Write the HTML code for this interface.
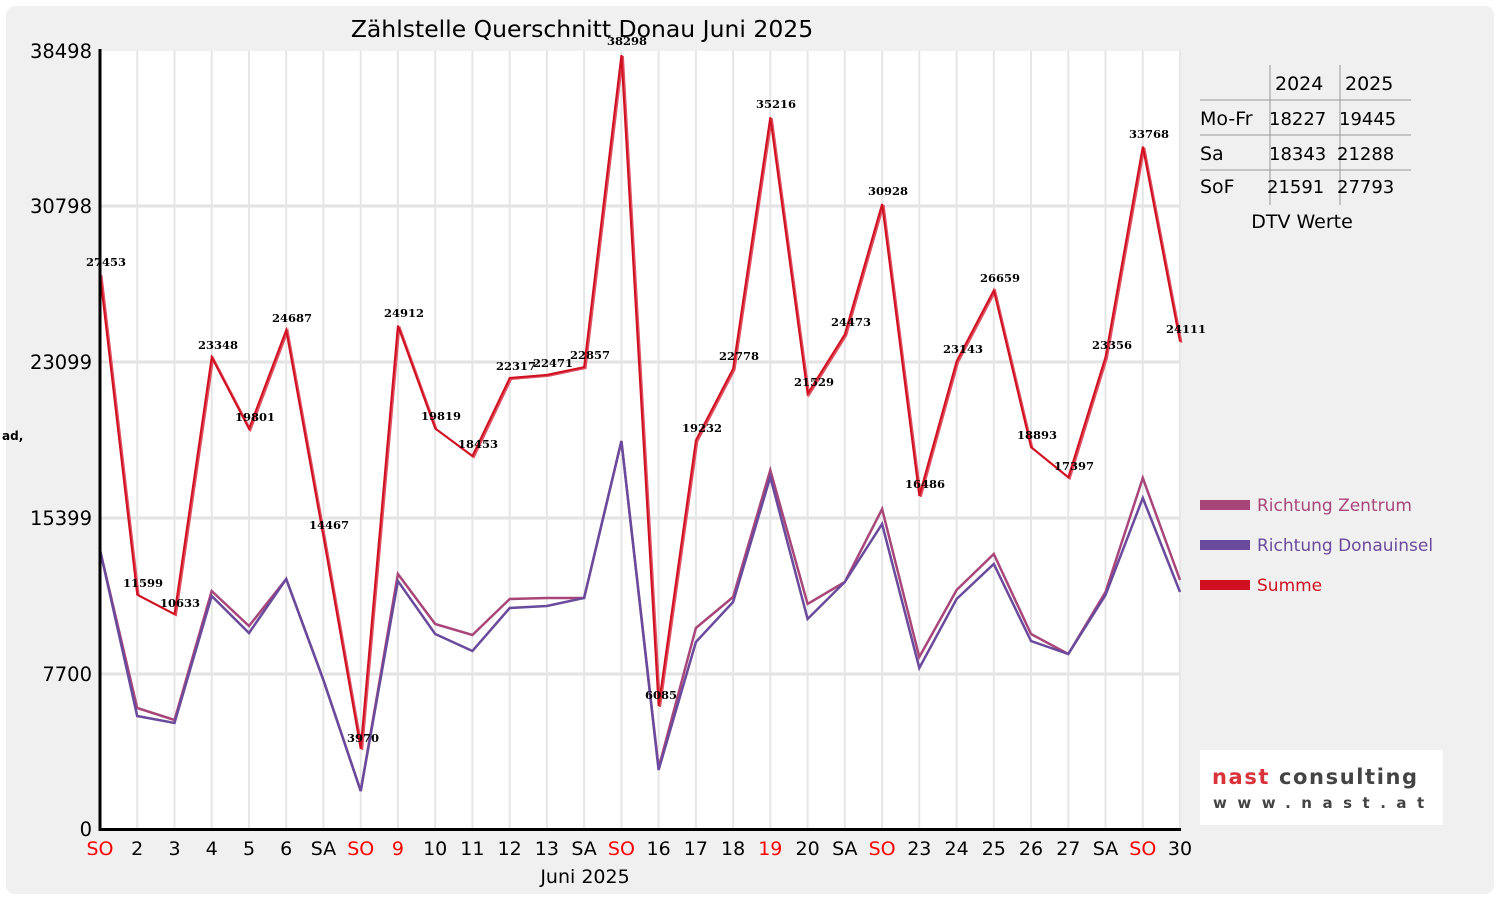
<!DOCTYPE html>
<html><head><meta charset="utf-8"><style>
body{margin:0;background:#fff;width:1500px;height:900px;overflow:hidden}
text{font-family:"DejaVu Sans","Liberation Sans",sans-serif}
text.v{font-family:"DejaVu Serif","Liberation Serif",serif;font-weight:bold;font-size:11.5px}
</style></head><body>
<svg width="1500" height="900" xmlns="http://www.w3.org/2000/svg">
<rect x="6" y="6" width="1488" height="888" rx="9" fill="#f0f0f0"/>
<rect x="100" y="51" width="1080" height="778" fill="#fff"/>
<g stroke="#e3e3e3" stroke-width="3">
<line x1="100" y1="206" x2="1180" y2="206"/><line x1="100" y1="362" x2="1180" y2="362"/><line x1="100" y1="518" x2="1180" y2="518"/><line x1="100" y1="674" x2="1180" y2="674"/>
</g>
<g stroke="#e6e6e6" stroke-width="2">
<line x1="137.2" y1="51" x2="137.2" y2="829"/><line x1="174.5" y1="51" x2="174.5" y2="829"/><line x1="211.7" y1="51" x2="211.7" y2="829"/><line x1="249" y1="51" x2="249" y2="829"/><line x1="286.2" y1="51" x2="286.2" y2="829"/><line x1="323.4" y1="51" x2="323.4" y2="829"/><line x1="360.7" y1="51" x2="360.7" y2="829"/><line x1="397.9" y1="51" x2="397.9" y2="829"/><line x1="435.2" y1="51" x2="435.2" y2="829"/><line x1="472.4" y1="51" x2="472.4" y2="829"/><line x1="509.7" y1="51" x2="509.7" y2="829"/><line x1="546.9" y1="51" x2="546.9" y2="829"/><line x1="584.1" y1="51" x2="584.1" y2="829"/><line x1="621.4" y1="51" x2="621.4" y2="829"/><line x1="658.6" y1="51" x2="658.6" y2="829"/><line x1="695.9" y1="51" x2="695.9" y2="829"/><line x1="733.1" y1="51" x2="733.1" y2="829"/><line x1="770.3" y1="51" x2="770.3" y2="829"/><line x1="807.6" y1="51" x2="807.6" y2="829"/><line x1="844.8" y1="51" x2="844.8" y2="829"/><line x1="882.1" y1="51" x2="882.1" y2="829"/><line x1="919.3" y1="51" x2="919.3" y2="829"/><line x1="956.6" y1="51" x2="956.6" y2="829"/><line x1="993.8" y1="51" x2="993.8" y2="829"/><line x1="1031" y1="51" x2="1031" y2="829"/><line x1="1068.3" y1="51" x2="1068.3" y2="829"/><line x1="1105.5" y1="51" x2="1105.5" y2="829"/><line x1="1142.8" y1="51" x2="1142.8" y2="829"/><line x1="1180" y1="51" x2="1180" y2="829"/>
</g>
<polyline fill="none" stroke="#a8467a" stroke-width="2.5" points="100,550 137.2,708 174.5,720 211.7,591 249,626 286.2,579 323.4,680 360.7,791 397.9,574 435.2,624 472.4,635 509.7,599 546.9,598 584.1,598 621.4,441 658.6,768 695.9,628 733.1,597 770.3,470 807.6,604 844.8,582 882.1,509 919.3,657 956.6,590 993.8,554 1031,634 1068.3,654 1105.5,592 1142.8,478 1180,580"/>
<polyline fill="none" stroke="#6a4a9c" stroke-width="2.5" points="100,550 137.2,716 174.5,723 211.7,596 249,633 286.2,579 323.4,680 360.7,791 397.9,581 435.2,634 472.4,651 509.7,608 546.9,606 584.1,598 621.4,441 658.6,770 695.9,642 733.1,602 770.3,477 807.6,619 844.8,582 882.1,524 919.3,668 956.6,599 993.8,564 1031,641 1068.3,654 1105.5,595 1142.8,498 1180,592"/>
<polyline fill="none" stroke="#e05060" stroke-width="2" transform="translate(1.5,1)" points="100,274.2 137.2,594.6 174.5,614.1 211.7,357.2 249,428.8 286.2,330.1 323.4,536.6 360.7,748.8 397.9,325.6 435.2,428.5 472.4,456.1 509.7,378 546.9,374.9 584.1,367.1 621.4,55 658.6,706 695.9,440.3 733.1,368.7 770.3,117.3 807.6,393.9 844.8,334.4 882.1,204 919.3,495.8 956.6,361.3 993.8,290.3 1031,447.2 1068.3,477.4 1105.5,357 1142.8,146.6 1180,341.7"/>
<polyline fill="none" stroke="#d01020" stroke-width="2" points="100,274.2 137.2,594.6 174.5,614.1 211.7,357.2 249,428.8 286.2,330.1 323.4,536.6 360.7,748.8 397.9,325.6 435.2,428.5 472.4,456.1 509.7,378 546.9,374.9 584.1,367.1 621.4,55 658.6,706 695.9,440.3 733.1,368.7 770.3,117.3 807.6,393.9 844.8,334.4 882.1,204 919.3,495.8 956.6,361.3 993.8,290.3 1031,447.2 1068.3,477.4 1105.5,357 1142.8,146.6 1180,341.7"/>
<g text-anchor="middle" fill="#000">
<text class="v" x="106" y="266">27453</text><text class="v" x="143" y="587">11599</text><text class="v" x="180" y="607">10633</text><text class="v" x="218" y="349">23348</text><text class="v" x="255" y="421">19801</text><text class="v" x="292" y="322">24687</text><text class="v" x="329" y="529">14467</text><text class="v" x="363" y="742">3970</text><text class="v" x="404" y="317">24912</text><text class="v" x="441" y="420">19819</text><text class="v" x="478" y="448">18453</text><text class="v" x="516" y="370">22317</text><text class="v" x="553" y="367">22471</text><text class="v" x="590" y="359">22857</text><text class="v" x="627" y="45">38298</text><text class="v" x="661" y="699">6085</text><text class="v" x="702" y="432">19232</text><text class="v" x="739" y="360">22778</text><text class="v" x="776" y="108">35216</text><text class="v" x="814" y="386">21529</text><text class="v" x="851" y="326">24473</text><text class="v" x="888" y="195">30928</text><text class="v" x="925" y="488">16486</text><text class="v" x="963" y="353">23143</text><text class="v" x="1000" y="282">26659</text><text class="v" x="1037" y="439">18893</text><text class="v" x="1074" y="470">17397</text><text class="v" x="1112" y="349">23356</text><text class="v" x="1149" y="138">33768</text><text class="v" x="1186" y="333">24111</text>
</g>
<line x1="100" y1="49" x2="100" y2="831" stroke="#000" stroke-width="3"/>
<line x1="99" y1="829.5" x2="1181" y2="829.5" stroke="#000" stroke-width="3"/>
<g font-size="19.5" text-anchor="end" fill="#000">
<text x="92" y="58">38498</text><text x="92" y="213">30798</text><text x="92" y="369">23099</text><text x="92" y="525">15399</text><text x="92" y="681">7700</text><text x="92" y="836">0</text>
</g>
<g font-size="19" text-anchor="middle" fill="#000">
<text x="100" y="855" fill="#f00">SO</text><text x="137.2" y="855">2</text><text x="174.5" y="855">3</text><text x="211.7" y="855">4</text><text x="249" y="855">5</text><text x="286.2" y="855">6</text><text x="323.4" y="855">SA</text><text x="360.7" y="855" fill="#f00">SO</text><text x="397.9" y="855" fill="#f00">9</text><text x="435.2" y="855">10</text><text x="472.4" y="855">11</text><text x="509.7" y="855">12</text><text x="546.9" y="855">13</text><text x="584.1" y="855">SA</text><text x="621.4" y="855" fill="#f00">SO</text><text x="658.6" y="855">16</text><text x="695.9" y="855">17</text><text x="733.1" y="855">18</text><text x="770.3" y="855" fill="#f00">19</text><text x="807.6" y="855">20</text><text x="844.8" y="855">SA</text><text x="882.1" y="855" fill="#f00">SO</text><text x="919.3" y="855">23</text><text x="956.6" y="855">24</text><text x="993.8" y="855">25</text><text x="1031" y="855">26</text><text x="1068.3" y="855">27</text><text x="1105.5" y="855">SA</text><text x="1142.8" y="855" fill="#f00">SO</text><text x="1180" y="855">30</text>
<text x="585" y="883">Juni 2025</text>
<text x="582" y="37" font-size="23.5">Zählstelle Querschnitt Donau Juni 2025</text>
</g>
<text x="2" y="440" font-size="12" font-weight="bold">ad,</text>
<g stroke="#999" stroke-width="1">
<line x1="1270" y1="65" x2="1270" y2="205"/><line x1="1340" y1="65" x2="1340" y2="205"/>
<line x1="1200" y1="100" x2="1411" y2="100"/><line x1="1200" y1="135" x2="1411" y2="135"/><line x1="1200" y1="170" x2="1411" y2="170"/>
</g>
<g font-size="19" fill="#000">
<text x="1275" y="90">2024</text><text x="1345" y="90">2025</text>
<text x="1200" y="125">Mo-Fr</text><text x="1269" y="125" font-size="18">18227</text><text x="1339" y="125" font-size="18">19445</text>
<text x="1200" y="160">Sa</text><text x="1269" y="160" font-size="18">18343</text><text x="1337" y="160" font-size="18">21288</text>
<text x="1200" y="193">SoF</text><text x="1267" y="193" font-size="18">21591</text><text x="1337" y="193" font-size="18">27793</text>
<text x="1302" y="228" text-anchor="middle">DTV Werte</text>
</g>
<rect x="1200" y="500" width="50" height="10" fill="#a8467a"/><text x="1257" y="511" font-size="17" fill="#a8467a">Richtung Zentrum</text>
<rect x="1200" y="540" width="50" height="10" fill="#6a4a9c"/><text x="1257" y="551" font-size="17" fill="#6a4a9c">Richtung Donauinsel</text>
<rect x="1200" y="580" width="50" height="10" fill="#d01020"/><text x="1257" y="591" font-size="17" fill="#d01020">Summe</text>
<rect x="1200" y="750" width="243" height="75" fill="#fff"/>
<text x="1212" y="784" font-size="21" font-weight="bold" fill="#d8323a" letter-spacing="1.6">nast <tspan fill="#444">consulting</tspan></text>
<text x="1213" y="808" font-size="15" font-weight="bold" fill="#444" letter-spacing="10.5">www.nast.at</text>
</svg>
</body></html>
